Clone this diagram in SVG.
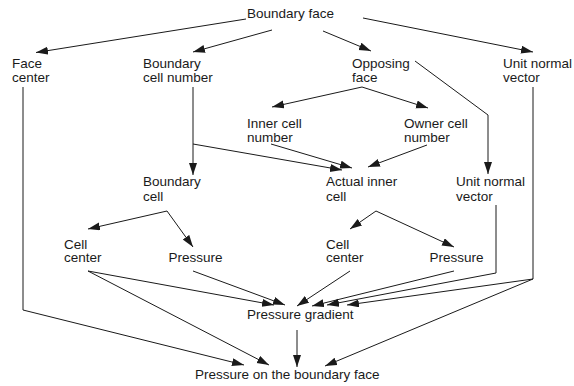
<svg xmlns="http://www.w3.org/2000/svg" width="574" height="386" viewBox="0 0 574 386">
  <style>
    .lbl { font-family: "Liberation Sans", Arial, sans-serif; font-size: 13.5px; fill: #1a1a1a; }
    .edge { fill: none; stroke: #1a1a1a; stroke-width: 1; marker-end: url(#arrow); }
  </style>
  <defs>
    <marker id="arrow" markerUnits="userSpaceOnUse" markerWidth="13" markerHeight="9" refX="12" refY="4" orient="auto">
      <path d="M0,0 L12,4 L0,8 Z" fill="#1a1a1a"/>
    </marker>
  </defs>
  <rect width="574" height="386" fill="#ffffff"/>

  <g id="connectors">
    <!-- Boundary face fan-out -->
    <line class="edge" x1="246" y1="19" x2="36" y2="52.5"/>
    <line class="edge" x1="272" y1="30" x2="193" y2="52"/>
    <line class="edge" x1="323" y1="31" x2="371" y2="51"/>
    <line class="edge" x1="363" y1="18" x2="533" y2="52"/>
    <!-- Face center to result -->
    <polyline class="edge" points="23,87 23,310 244,365"/>
    <!-- Boundary cell number -->
    <line class="edge" x1="193" y1="87" x2="193" y2="175"/>
    <line class="edge" x1="193" y1="144" x2="342" y2="170"/>
    <!-- Inner / owner cell numbers to actual inner cell -->
    <line class="edge" x1="271" y1="144" x2="352" y2="168"/>
    <line class="edge" x1="427" y1="145" x2="368" y2="167"/>
    <!-- Opposing face -->
    <line class="edge" x1="362" y1="87" x2="272" y2="107"/>
    <line class="edge" x1="362" y1="87" x2="428" y2="108"/>
    <polyline class="edge" points="415,61 488,115 488,174"/>
    <!-- Unit normal vector (right) -->
    <polyline class="edge" points="533,87 533,279 347,305"/>
    <line class="edge" x1="533" y1="279" x2="325" y2="366"/>
    <!-- Boundary cell -->
    <line class="edge" x1="167" y1="211" x2="88" y2="229"/>
    <line class="edge" x1="167" y1="211" x2="193" y2="247"/>
    <!-- Actual inner cell -->
    <line class="edge" x1="376" y1="211" x2="350" y2="229"/>
    <line class="edge" x1="376" y1="211" x2="454" y2="247"/>
    <!-- Unit normal vector (middle) -->
    <polyline class="edge" points="496,205 496,273 327,305"/>
    <!-- Into pressure gradient -->
    <line class="edge" x1="88" y1="271" x2="274" y2="305"/>
    <line class="edge" x1="193" y1="271" x2="285" y2="305"/>
    <line class="edge" x1="350" y1="271" x2="297" y2="306"/>
    <line class="edge" x1="454" y1="271" x2="312" y2="306"/>
    <!-- Into pressure on the boundary face -->
    <line class="edge" x1="88" y1="271" x2="269" y2="365"/>
    <line class="edge" x1="297" y1="330" x2="297" y2="367"/>
  </g>

  <g id="boundary-face"><text class="lbl" x="247" y="18">Boundary face</text></g>
  <g id="face-center"><text class="lbl" x="12" y="67.5">Face</text><text class="lbl" x="12" y="82">center</text></g>
  <g id="boundary-cell-number"><text class="lbl" x="143" y="67.5">Boundary</text><text class="lbl" x="143" y="82">cell number</text></g>
  <g id="opposing-face"><text class="lbl" x="352" y="67.5">Opposing</text><text class="lbl" x="352" y="82">face</text></g>
  <g id="unit-normal-vector-1"><text class="lbl" x="503" y="67.5">Unit normal</text><text class="lbl" x="503" y="82">vector</text></g>
  <g id="inner-cell-number"><text class="lbl" x="247" y="128">Inner cell</text><text class="lbl" x="247" y="142">number</text></g>
  <g id="owner-cell-number"><text class="lbl" x="404" y="128">Owner cell</text><text class="lbl" x="404" y="142">number</text></g>
  <g id="boundary-cell"><text class="lbl" x="143" y="186">Boundary</text><text class="lbl" x="143" y="200.5">cell</text></g>
  <g id="actual-inner-cell"><text class="lbl" x="326" y="186">Actual inner</text><text class="lbl" x="326" y="200.5">cell</text></g>
  <g id="unit-normal-vector-2"><text class="lbl" x="456" y="186">Unit normal</text><text class="lbl" x="456" y="200.5">vector</text></g>
  <g id="cell-center-1"><text class="lbl" x="64" y="248.5">Cell</text><text class="lbl" x="64" y="262">center</text></g>
  <g id="pressure-1"><text class="lbl" x="168.5" y="261.5">Pressure</text></g>
  <g id="cell-center-2"><text class="lbl" x="326" y="248.5">Cell</text><text class="lbl" x="326" y="262">center</text></g>
  <g id="pressure-2"><text class="lbl" x="429.5" y="261.5">Pressure</text></g>
  <g id="pressure-gradient"><text class="lbl" x="247" y="318.5">Pressure gradient</text></g>
  <g id="pressure-on-boundary-face"><text class="lbl" x="195" y="378.5">Pressure on the boundary face</text></g>
</svg>
